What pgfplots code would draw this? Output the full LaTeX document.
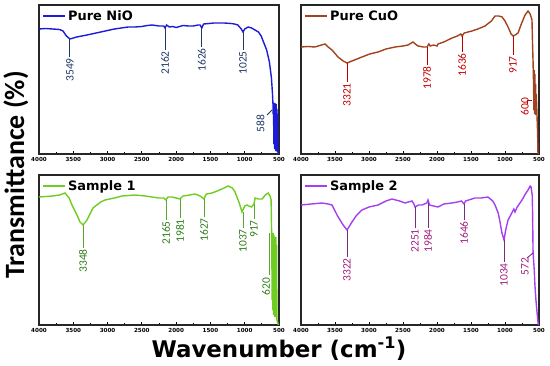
\documentclass[border=0pt]{standalone}
\usepackage{pgfplots}
\pgfplotsset{compat=1.18}
\usepackage{fontspec}
\setmainfont{DejaVu Sans}
\newfontfamily\carlito{Carlito}

\definecolor{nioC}{HTML}{1C1CD8}
\definecolor{nioL}{HTML}{1F3864}
\definecolor{cuoC}{HTML}{A2421E}
\definecolor{cuoL}{HTML}{C00000}
\definecolor{s1C}{HTML}{6ECC22}
\definecolor{s1L}{HTML}{2E7D1A}
\definecolor{s1K}{HTML}{5CA82C}
\definecolor{s2C}{HTML}{A540F0}
\definecolor{s2L}{HTML}{A0207F}
\definecolor{s2K}{HTML}{7A2A80}

\newcommand\pk[6]{\draw[#5, line width=0.9bp] (axis cs:#1,#2) -- (axis cs:#1,#3) node[anchor=east, rotate=90, inner sep=0.8bp, text=#6, font=\carlito\fontsize{11.5}{12}\selectfont] {#4};}

\pgfplotsset{
 ftir/.style={
  scale only axis, xmin=500, xmax=4000, x dir=reverse, ymin=0,
  ytick=\empty, xtick={500,1000,...,4000}, minor x tick num=1,
  tick align=inside, xtick pos=left, major tick length=3bp, minor tick length=2bp,
  axis line style={line width=1.2bp, draw=black!85},
  every tick/.style={line width=0.8bp, black},
  xticklabel style={font=\fontsize{5.6}{6}\selectfont\bfseries, inner sep=1bp, yshift=-2.5bp},
  /pgf/number format/assume math mode=true, /pgf/number format/1000 sep={},
  clip mode=individual,
  legend style={at={(0.01,0.985)}, anchor=north west, draw=none, fill=none,
    font=\fontsize{13}{13}\selectfont\bfseries, inner sep=1bp},
  legend image code/.code={\draw[##1, line width=1.5bp] (0bp,0bp) -- (22bp,0bp);},
 }
}

\begin{document}
\begin{tikzpicture}
\path[use as bounding box] (0,0) rectangle (550bp,366bp);

% ---------- Pure NiO ----------
\begin{axis}[ftir, at={(39bp,212bp)}, anchor=south west, width=240bp, height=149bp, ymax=149]
\addplot[nioC, line width=1.4bp] coordinates {
(4000,125) (3900,125.5) (3800,125) (3700,124.5) (3650,123) (3600,118) (3549,115) (3450,117)
(3300,119) (3200,120.5) (3100,122) (3000,123.5) (2900,125) (2800,126) (2700,127) (2600,127)
(2500,127.5) (2420,128.5) (2350,129) (2250,128) (2180,128) (2162,126) (2140,129) (2100,127)
(2050,127.5) (2000,126.5) (1900,128.5) (1820,128) (1750,128) (1680,129) (1650,129) (1626,126)
(1600,130) (1520,130.5) (1450,131) (1380,131) (1300,131) (1200,130.5) (1150,130) (1100,129)
(1050,125) (1025,122) (1000,125) (950,127) (900,126) (850,124) (800,122) (760,118) (720,111)
(680,104) (640,92) (610,76) (595,60) (588,50) (585,40) (580,51) (575,10) (570,50) (565,5)
(560,51) (555,8) (550,48) (545,3) (540,50) (535,5) (530,45) (525,2) (520,40) (515,0) (500,0)
};
\addlegendentry{Pure NiO}
\pk{3549}{115}{97}{3549}{nioL}{nioL}
\pk{2162}{126}{104}{2162}{nioL}{nioL}
\pk{1626}{126}{107}{1626}{nioL}{nioL}
\pk{1025}{122}{104}{1025}{nioL}{nioL}
\draw[nioL, line width=0.9bp] (axis cs:675,39) -- (axis cs:602,44);
\node[anchor=east, rotate=90, inner sep=0.8bp, text=nioL, font=\carlito\fontsize{11.5}{12}\selectfont] at (axis cs:770,40) {588};
\end{axis}

% ---------- Pure CuO ----------
\begin{axis}[ftir, at={(301bp,212bp)}, anchor=south west, width=238bp, height=149bp, ymax=149]
\addplot[cuoC, line width=1.4bp] coordinates {
(4000,107) (3900,107.5) (3794,107) (3700,109) (3647,110) (3600,107) (3544,104) (3456,97)
(3380,93) (3323,91) (3250,93) (3103,97) (2990,100) (2867,102) (2750,105) (2617,107)
(2500,108) (2426,109) (2353,112) (2300,109) (2279,108) (2200,107) (2147,107) (2120,110)
(2100,108) (2050,109) (2000,108) (1985,110) (1900,112) (1779,116) (1700,118) (1650,120)
(1632,118) (1600,121) (1485,123) (1400,125) (1294,128) (1200,133) (1147,138) (1090,138)
(1043,137) (1000,133) (955,127) (910,120) (882,118) (850,119) (808,121) (760,130) (705,139)
(661,143) (630,140) (603,134) (595,110) (588,94) (580,70) (575,44) (570,84) (565,40)
(560,80) (555,45) (550,70) (545,39) (540,60) (530,40) (520,20) (515,0) (500,0)
};
\addlegendentry{Pure CuO}
\pk{3323}{91}{72}{3321}{cuoL}{cuoL}
\pk{2147}{107}{89}{1978}{cuoL}{cuoL}
\pk{1632}{118}{102}{1636}{cuoL}{cuoL}
\pk{882}{118}{99}{917}{cuoL}{cuoL}
\draw[cuoL, line width=0.9bp] (axis cs:676,50) -- (axis cs:676,54) -- (axis cs:603,54);
\node[anchor=east, rotate=90, inner sep=0.8bp, text=cuoL, font=\carlito\fontsize{11.5}{12}\selectfont] at (axis cs:710,57) {600};
\end{axis}

% ---------- Sample 1 ----------
\begin{axis}[ftir, at={(39bp,41bp)}, anchor=south west, width=240bp, height=150bp, ymax=150]
\addplot[s1C, line width=1.4bp] coordinates {
(4000,128) (3900,128.5) (3800,129) (3700,130) (3621,132) (3560,127) (3519,120) (3446,110)
(3402,103) (3358,100) (3300,105) (3212,117) (3100,123) (3037,125) (2900,127) (2790,129)
(2600,130) (2450,129) (2352,128) (2250,127) (2180,127) (2148,125) (2120,128) (2060,128)
(2000,127) (1944,126) (1900,129) (1800,130) (1725,131) (1650,129) (1594,126) (1560,131)
(1477,132) (1400,134) (1300,137) (1243,139) (1180,137) (1141,133) (1080,122) (1039,113)
(1000,119) (966,120) (940,119) (900,118) (865,121) (848,127) (800,126) (746,126) (700,130)
(658,132) (630,129) (615,125) (605,80) (600,25) (595,90) (590,15) (585,92) (580,10)
(575,90) (570,12) (565,88) (560,8) (555,85) (550,10) (545,88) (540,8) (535,80) (530,5)
(520,3) (510,0) (500,0)
};
\addlegendentry{Sample 1}
\pk{3358}{100}{77}{3348}{s1K}{s1L}
\pk{2148}{125}{105}{2165}{s1K}{s1L}
\pk{1944}{126}{107}{1981}{s1K}{s1L}
\pk{1594}{126}{108}{1627}{s1K}{s1L}
\pk{1025}{113}{97}{1037}{s1K}{s1L}
\pk{865}{121}{106}{917}{s1K}{s1L}
\draw[s1K, line width=0.9bp] (axis cs:640,92) -- (axis cs:640,50);
\node[anchor=east, rotate=90, inner sep=0.8bp, text=s1L, font=\carlito\fontsize{11.5}{12}\selectfont] at (axis cs:690,48) {620};
\end{axis}

% ---------- Sample 2 ----------
\begin{axis}[ftir, at={(301bp,41bp)}, anchor=south west, width=238bp, height=150bp, ymax=150]
\addplot[s2C, line width=1.4bp] coordinates {
(4000,120) (3850,121) (3691,122) (3600,121) (3544,120) (3470,110) (3426,105) (3380,100)
(3323,95) (3250,103) (3180,110) (3103,115) (3000,118) (2867,120) (2750,124) (2661,126)
(2550,124) (2470,122) (2367,124) (2340,121) (2323,118) (2270,120) (2220,120) (2150,122)
(2132,125) (2110,120) (2050,119) (1985,118) (1900,121) (1779,122) (1700,123) (1640,124)
(1602,121) (1580,124) (1441,127) (1350,127) (1250,128) (1180,124) (1147,120) (1100,112)
(1073,103) (1045,92) (1014,85) (990,95) (955,105) (900,112) (870,116) (853,113) (820,118)
(800,120) (750,125) (700,131) (661,135) (630,139) (617,138) (600,130) (595,115) (587,72)
(570,55) (560,40) (545,25) (528,12) (510,0) (500,0)
};
\addlegendentry{Sample 2}
\pk{3323}{95}{68}{3322}{s2K}{s2L}
\pk{2323}{118}{97}{2251}{s2K}{s2L}
\pk{2132}{122}{97}{1984}{s2K}{s2L}
\pk{1602}{121}{105}{1646}{s2K}{s2L}
\pk{1014}{85}{63}{1034}{s2K}{s2L}
\draw[s2K, line width=0.9bp] (axis cs:676,67) -- (axis cs:588,72);
\node[anchor=east, rotate=90, inner sep=0.8bp, text=s2L, font=\carlito\fontsize{11.5}{12}\selectfont] at (axis cs:705,68) {572};
\end{axis}

\node[font=\fontsize{23}{24}\selectfont\bfseries, anchor=base] at (279bp,9bp) {Wavenumber (cm\textsuperscript{-1})};
\node[font=\carlito\fontsize{28}{28}\selectfont\bfseries, rotate=90] at (16bp,191bp) {Transmittance (\%)};
\end{tikzpicture}
\end{document}
